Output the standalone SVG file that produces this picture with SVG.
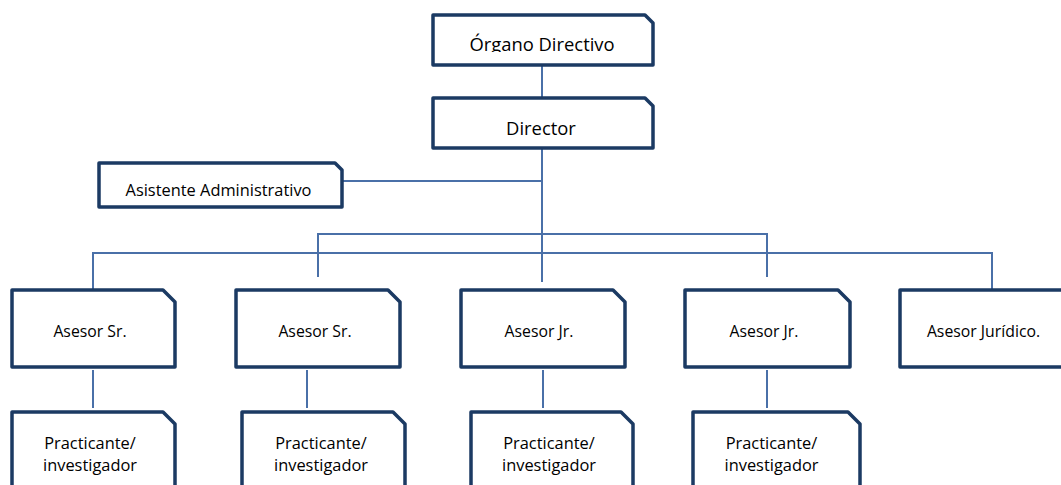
<svg xmlns="http://www.w3.org/2000/svg" width="1061" height="485" viewBox="0 0 1061 485">
<style>
.box{fill:#fff;stroke:#1b3a63;stroke-width:3.5;stroke-linejoin:round}
.con{fill:none;stroke:#4a70a8;stroke-width:2}
text{font-family:"Open Sans","Noto Sans",sans-serif;fill:#000;text-anchor:middle}
.big{font-size:18.4px}
.sm{font-size:15.8px}
.md{font-size:16.4px}
</style>
<defs>
<clipPath id="clipTop"><rect x="433" y="15" width="220" height="37"/></clipPath>
</defs>
<rect width="1061" height="485" fill="#fff"/>
<g id="connectors">
<path class="con" d="M542 65V98M542 148V282M342 181H542M318 277V234H767V277M93 290V253H992V290M93 370V408M307 370V408M543 370V408M767 370V408"/>
</g>
<g id="organo">
<path class="box" d="M433 15H645L653 23V65H433Z"/>
<text class="big" x="542" y="50.5" clip-path="url(#clipTop)">Órgano Directivo</text>
</g>
<g id="director">
<path class="box" d="M433 98H645L653 106V148H433Z"/>
<text class="big" x="541" y="135">Director</text>
</g>
<g id="asistente">
<path class="box" d="M99 163H335L342 170V207H99Z"/>
<text class="md" x="218.5" y="196">Asistente Administrativo</text>
</g>
<g id="asesor1">
<path class="box" d="M12 290H163L175 302V367H12Z"/>
<text class="sm" x="90" y="337">Asesor Sr.</text>
</g>
<g id="asesor2">
<path class="box" d="M236 290H388L400 302V367H236Z"/>
<text class="sm" x="315" y="337">Asesor Sr.</text>
</g>
<g id="asesor3">
<path class="box" d="M461 290H613L625 302V367H461Z"/>
<text class="sm" x="539" y="337">Asesor Jr.</text>
</g>
<g id="asesor4">
<path class="box" d="M685 290H838L850 302V367H685Z"/>
<text class="sm" x="764" y="337">Asesor Jr.</text>
</g>
<g id="asesor5">
<path class="box" d="M900 290H1063L1075 302V367H900Z"/>
<text class="sm" x="983.5" y="337">Asesor Jurídico.</text>
</g>
<g id="practicante1">
<path class="box" d="M12 412H163L175 424V500H12Z"/>
<text class="md" x="90" y="449">Practicante/</text>
<text class="md" x="90" y="471">investigador</text>
</g>
<g id="practicante2">
<path class="box" d="M242 412H393L405 424V500H242Z"/>
<text class="md" x="321" y="449">Practicante/</text>
<text class="md" x="321" y="471">investigador</text>
</g>
<g id="practicante3">
<path class="box" d="M471 412H621L633 424V500H471Z"/>
<text class="md" x="549" y="449">Practicante/</text>
<text class="md" x="549" y="471">investigador</text>
</g>
<g id="practicante4">
<path class="box" d="M693 412H848L860 424V500H693Z"/>
<text class="md" x="771.5" y="449">Practicante/</text>
<text class="md" x="771.5" y="471">investigador</text>
</g>
</svg>
